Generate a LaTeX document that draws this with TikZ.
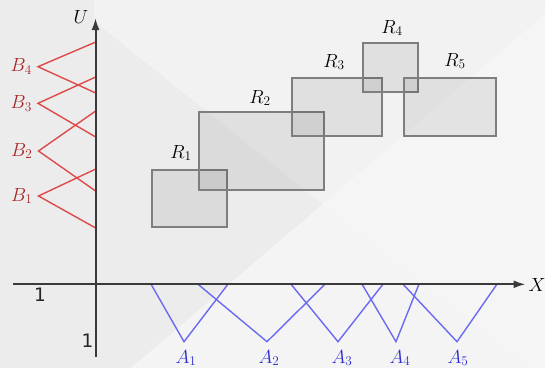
\RequirePackage{fix-cm}
\documentclass[tikz,border=0pt]{standalone}
\usepackage{fontspec}
\newfontfamily\numfont{DejaVu Sans}
\usetikzlibrary{arrows.meta}
\definecolor{bgbase}{HTML}{ECECEC}
\definecolor{axiscol}{HTML}{3A3A3A}
\definecolor{redline}{HTML}{DE4A4A}
\definecolor{redtext}{HTML}{A82626}
\definecolor{blueline}{HTML}{6A6AF2}
\definecolor{bluetext}{HTML}{2E2ED2}
\definecolor{rectborder}{HTML}{7E7E7E}
\tikzset{
  axisline/.style={draw=axiscol, line width=2pt, -{Latex[length=12pt,width=8pt]}},
  rbox/.style={draw=rectborder, line width=1.8pt, fill=black, fill opacity=0.07, inner sep=0pt, rectangle},
  redproj/.style={draw=redline, line width=1.4pt, line join=miter},
  blueproj/.style={draw=blueline, line width=1.4pt, line join=miter},
  mlabel/.style={font=\fontsize{19}{23}\selectfont, inner sep=0pt},
  rlabel/.style={mlabel, text=black},
  blabel/.style={mlabel, text=redtext, anchor=east},
  alabel/.style={mlabel, text=bluetext},
  numlabel/.style={font=\numfont\fontsize{18.5}{22}\selectfont, inner sep=0pt, text=black!85}
}
\begin{document}
\begin{tikzpicture}[x=1pt,y=-1pt]
\useasboundingbox (0,0) rectangle (545,368);
% background
\fill[bgbase] (0,0) rectangle (545,368);
\fill[white, opacity=0.35] (94,21) -- (94,0) -- (545,0) -- (545,382) -- cycle;
\fill[white, opacity=0.45] (131,368) -- (323,204) -- (527,368) -- cycle;
\fill[white, opacity=0.25] (323,204) -- (545,14) -- (545,368) -- (527,368) -- cycle;
% origin
\coordinate (o) at (95.5,284.3);
% rectangles
\node[rbox, minimum width=75pt, minimum height=57pt] (r1) at (189.5,198.5) {};
\node[rbox, minimum width=125pt, minimum height=78pt] (r2) at (261.5,151) {};
\node[rbox, minimum width=90pt, minimum height=58pt] (r3) at (337,107) {};
\node[rbox, minimum width=55pt, minimum height=49pt] (r4) at (390.5,67.5) {};
\node[rbox, minimum width=92pt, minimum height=58pt] (r5) at (450,107) {};
\node[rlabel] (lr1) at (181,153) {$R_1$};
\node[rlabel] (lr2) at (260,98) {$R_2$};
\node[rlabel] (lr3) at (334,62) {$R_3$};
\node[rlabel] (lr4) at (392,28) {$R_4$};
\node[rlabel] (lr5) at (455,61) {$R_5$};
% B projections
\coordinate (b1) at (38.5,196);
\coordinate (b2) at (38.5,151);
\coordinate (b3) at (38,103.3);
\coordinate (b4) at (38,66.7);
\draw[redproj] (o |- r1.north) -- (b1) -- (o |- r1.south);
\draw[redproj] (o |- r2.north) -- (b2) -- (o |- r2.south);
\draw[redproj] (o |- r3.north) -- (b3) -- (o |- r3.south);
\draw[redproj] (o |- r4.north) -- (b4) -- (o |- r4.south);
\node[blabel] (lb1) at ([xshift=-6pt]b1) {$B_1$};
\node[blabel] (lb2) at ([xshift=-6pt]b2) {$B_2$};
\node[blabel] (lb3) at ([xshift=-6pt]b3) {$B_3$};
\node[blabel] (lb4) at ([xshift=-6pt]b4) {$B_4$};
% A projections
\coordinate (a1) at (184,341.7);
\coordinate (a2) at (267,341.7);
\coordinate (a3) at (338,341.7);
\coordinate (a4) at (396,341.7);
\coordinate (a5) at (457,341.7);
\draw[blueproj] (r1.west |- o) -- (a1) -- (r1.east |- o);
\draw[blueproj] (r2.west |- o) -- (a2) -- (r2.east |- o);
\draw[blueproj] (r3.west |- o) -- (a3) -- (r3.east |- o);
\draw[blueproj] (r4.west |- o) -- (a4) -- (r4.east |- o);
\draw[blueproj] (r5.west |- o) -- (a5) -- (r5.east |- o);
\node[alabel] (la1) at (186,358) {$A_1$};
\node[alabel] (la2) at (269,358) {$A_2$};
\node[alabel] (la3) at (342,358) {$A_3$};
\node[alabel] (la4) at (400,358) {$A_4$};
\node[alabel] (la5) at (458,358) {$A_5$};
% axes
\coordinate (xs) at (13,284.3);
\coordinate (xe) at (525.5,284.3);
\coordinate (ys) at (95.5,357);
\coordinate (ye) at (95.5,18);
\draw[axisline] (xs) -- (xe);
\draw[axisline] (ys) -- (ye);
\node[mlabel] (lx) at (537,285) {$X$};
\node[mlabel] (lu) at (81,16.7) {$U$};
\node[numlabel] (n1) at (40,295) {1};
\node[numlabel] (n2) at (87.5,341) {1};
\end{tikzpicture}
\end{document}
